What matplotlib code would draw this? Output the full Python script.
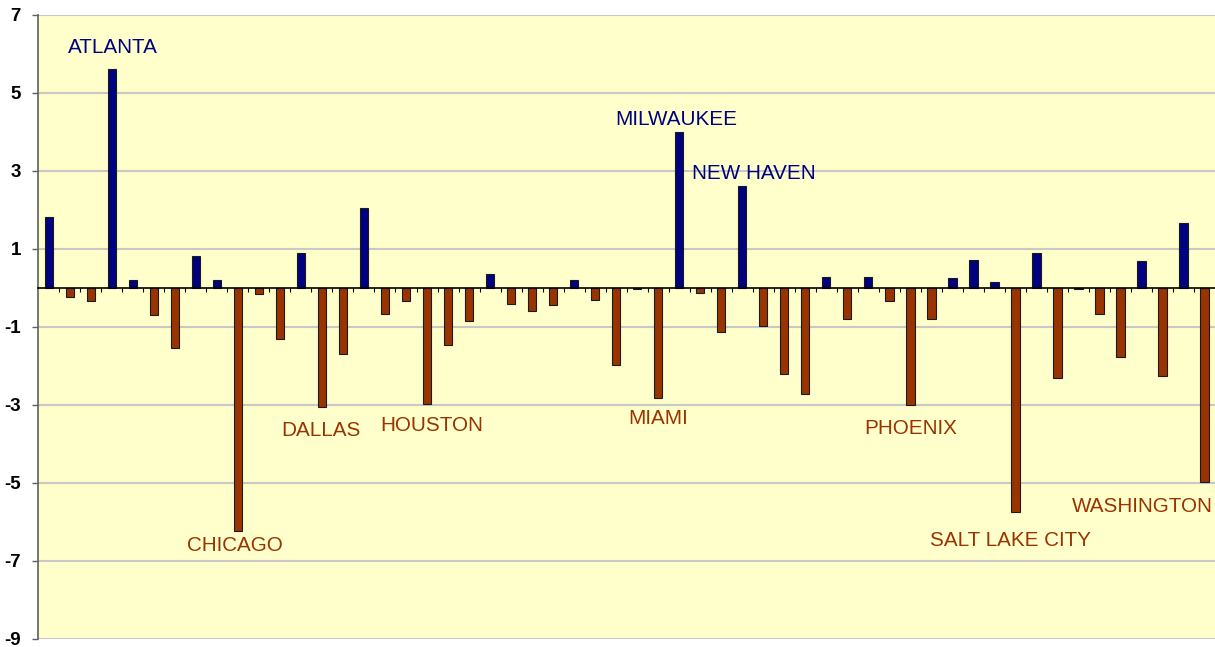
import numpy as np
import matplotlib.pyplot as plt

# change per city, in category order (56 cities)
values = [1.80, -0.23, -0.35, 5.62, 0.21, -0.69, -1.55, 0.81, 0.21, -6.23,
          -0.17, -1.31, 0.88, -3.07, -1.69, 2.05, -0.67, -0.35, -2.97, -1.48,
          -0.85, 0.35, -0.42, -0.60, -0.45, 0.21, -0.32, -1.97, -0.03, -2.82,
          3.98, -0.14, -1.13, 2.62, -0.98, -2.22, -2.72, 0.28, -0.80, 0.28,
          -0.34, -3.00, -0.80, 0.25, 0.71, 0.14, -5.74, 0.88, -2.32, -0.04,
          -0.67, -1.77, 0.68, -2.26, 1.67, -4.97]

# named cities and the bar they belong to
label_names = ['ATLANTA', 'CHICAGO', 'DALLAS', 'HOUSTON', 'MIAMI',
               'MILWAUKEE', 'NEW HAVEN', 'PHOENIX', 'SALT LAKE CITY', 'WASHINGTON']
label_index = [3, 9, 13, 18, 29, 30, 33, 41, 46, 55]

y_ticks = [-9, -7, -5, -3, -1, 1, 3, 5, 7]

NAVY = '#000080'
BROWN = '#993300'

vals = np.array(values)
x = np.arange(len(vals))
colors = [NAVY if v >= 0 else BROWN for v in vals]

fig = plt.figure(figsize=(12.15, 6.47), dpi=100)
ax = fig.add_axes([0.0315, 0.0128, 0.9685, 0.9645])
ax.set_facecolor('#FFFFCC')

ax.bar(x, vals, width=0.4, color=colors, edgecolor='#1a1a1a', linewidth=0.8, zorder=3)

ax.set_xlim(-0.5, len(vals) - 0.5)
ax.set_ylim(-9, 7)
ax.set_yticks(y_ticks)
ax.set_yticklabels([str(t) for t in y_ticks], fontsize=13.5, fontweight='bold',
                   family='Liberation Sans')
ax.yaxis.grid(True, color='#C8C8C8', linewidth=1.5, zorder=0)
ax.tick_params(axis='y', length=4.5, width=1, color='#606060', pad=8)

# category axis sits on zero, with small ticks between categories
ax.spines['bottom'].set_position(('data', 0))
ax.spines['bottom'].set_color('black')
ax.spines['bottom'].set_linewidth(1.2)
ax.spines['bottom'].set_zorder(4)
ax.set_xticks(np.arange(0.5, len(vals) - 0.5, 1.0))
ax.set_xticklabels([])
ax.tick_params(axis='x', direction='out', length=3, width=0.8, color='black')
ax.spines['left'].set_color('#606060')
ax.spines['left'].set_linewidth(1.2)
for side in ['top', 'right']:
    ax.spines[side].set_visible(False)

# city labels: horizontal shift in categories, baseline in data units
label_dx = [0.05, -0.13, -0.05, 0.24, 0.0, -0.12, 0.56, 0.03, -0.25, -2.97]
label_base = [6.01, -6.74, -3.80, -3.67, -3.49, 4.18, 2.78, -3.74, -6.61, -5.76]
for name, i, dx, yb in zip(label_names, label_index, label_dx, label_base):
    c = NAVY if vals[i] >= 0 else BROWN
    ax.text(i + dx, yb, name, ha='center', va='baseline', color=c,
            fontsize=14.9, family='Liberation Sans', zorder=5)

fig.savefig('out.png', dpi=100)
